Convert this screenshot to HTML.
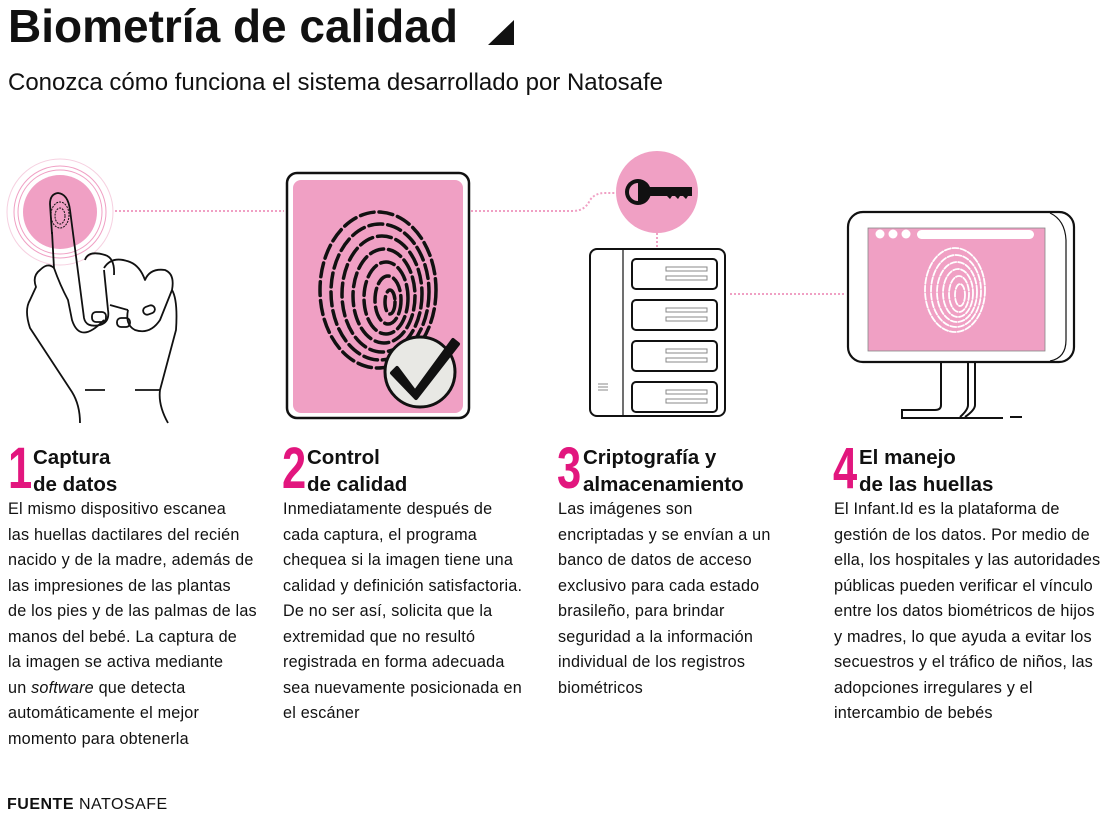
<!DOCTYPE html>
<html><head><meta charset="utf-8">
<style>
*{margin:0;padding:0;box-sizing:border-box}
body{width:1117px;height:817px;background:#fff;position:relative;overflow:hidden;font-family:"Liberation Sans",sans-serif;color:#111}
.t{position:absolute;white-space:nowrap}
h1{position:absolute;left:8px;top:-1px;font-size:46px;font-weight:bold;white-space:nowrap}
.sub{left:8px;top:69px;font-size:24px}
.num{position:absolute;top:440px;font-size:58px;font-weight:bold;color:#e2167e;transform:scaleX(0.75);transform-origin:left;line-height:1}
.hd{position:absolute;top:444px;font-size:20.5px;font-weight:bold;line-height:27px}
.bd{position:absolute;top:497px;font-size:16.2px;letter-spacing:0.2px;line-height:25.5px;width:290px;white-space:nowrap}
</style></head><body>
<h1>Biometría de calidad</h1>
<svg style="position:absolute;left:0;top:0" width="1117" height="817">
<polygon points="488,45 514,45 514,20" fill="#111"/>
<g stroke="#f0a0c4" stroke-width="2" stroke-dasharray="2,2" fill="none">
<line x1="115" y1="211" x2="284" y2="211"/>
<path d="M471 211 H573 Q585 211 590 200 Q595 193 605 193 H617"/>
<line x1="657" y1="233" x2="657" y2="248"/>
<line x1="730" y1="294" x2="846" y2="294"/>
</g>
<circle cx="60" cy="212" r="53" fill="none" stroke="#f6d0e0" stroke-width="1"/>
<circle cx="60" cy="212" r="46" fill="none" stroke="#f0a0c4" stroke-width="1"/>
<circle cx="60" cy="212" r="42" fill="none" stroke="#f0a0c4" stroke-width="1"/>
<circle cx="60" cy="212" r="37" fill="#f0a0c4"/>
<g fill="none" stroke="#111" stroke-width="1.8" stroke-linejoin="round">
<path d="M52 234 L50 204 Q50 194 58 193 Q68 194 70 210 L84 318 Q86 328 100 325 Q110 322 108 310 L104 270"/>
<path d="M85 260 Q88 250 105 255 Q115 258 114 275"/>
<path d="M104 268 Q112 255 130 262 Q140 266 145 280 Q150 268 165 270 Q175 274 172 290 L160 320 Q150 335 135 330 Q125 325 128 310"/>
<path d="M110 305 L128 310"/>
<path d="M52 232 L54 268 Q48 262 40 270 Q32 276 36 287 L30 300 Q24 310 30 328 L72 392 Q80 405 80 423"/>
<path d="M172 290 Q178 300 176 330 L160 390 Q158 405 168 423"/>
<path d="M54 268 Q60 285 68 300 L72 320 Q80 345 104 320"/>
<rect x="92" y="312" width="14" height="10" rx="4"/>
<rect x="117" y="318" width="13" height="9" rx="4"/>
<rect x="143" y="306" width="12" height="8" rx="4" transform="rotate(-20 149 310)"/>
<path d="M85 390 H105 M135 390 H160"/>
</g>
<ellipse cx="60" cy="215" rx="9" ry="13" fill="none" stroke="#111" stroke-width="1" stroke-dasharray="2,1"/>
<ellipse cx="60" cy="216" rx="5" ry="8" fill="none" stroke="#111" stroke-width="1" stroke-dasharray="2,1"/>
<rect x="287" y="173" width="182" height="245" rx="10" fill="#fff" stroke="#111" stroke-width="2.5"/>
<rect x="293" y="180" width="170" height="233" rx="8" fill="#f0a0c4"/>
<g fill="none" stroke="#111" stroke-width="3.5" stroke-linecap="round" stroke-dasharray="14,5">
<ellipse cx="378" cy="290" rx="58" ry="78"/>
<ellipse cx="380" cy="292" rx="49" ry="68"/>
<ellipse cx="382" cy="294" rx="40" ry="58"/>
<ellipse cx="384" cy="296" rx="31" ry="47"/>
<ellipse cx="386" cy="298" rx="22" ry="36"/>
<ellipse cx="388" cy="300" rx="13" ry="24"/>
<ellipse cx="390" cy="302" rx="5" ry="12"/>
</g>
<circle cx="420" cy="372" r="35" fill="#e8e8e4" stroke="#111" stroke-width="3"/>
<path d="M397 368 L415 392 L453 340 L458 344 L416 398 L392 373 Z" fill="#111" stroke="#111" stroke-width="4" stroke-linejoin="round"/>
<circle cx="657" cy="192" r="41" fill="#f0a0c4"/>
<circle cx="638" cy="192" r="13" fill="#111"/>
<path d="M638 183 A9 9 0 0 0 638 201 Z" fill="#f0a0c4"/>
<path d="M648 187 H692 V196 H688 L686 199 L683 196 H680 L678 199 L675 196 H672 L670 199 L667 196 H648 Z" fill="#111"/>
<rect x="590" y="249" width="135" height="167" rx="7" fill="#fff" stroke="#111" stroke-width="2"/>
<line x1="623" y1="250" x2="623" y2="415" stroke="#111" stroke-width="1.2"/>
<g fill="#fff" stroke="#111" stroke-width="2">
<rect x="632" y="259" width="85" height="30" rx="4"/>
<rect x="632" y="300" width="85" height="30" rx="4"/>
<rect x="632" y="341" width="85" height="30" rx="4"/>
<rect x="632" y="382" width="85" height="30" rx="4"/>
</g>
<g fill="none" stroke="#888" stroke-width="1">
<rect x="666" y="267" width="41" height="4"/><rect x="666" y="276" width="41" height="4"/>
<rect x="666" y="308" width="41" height="4"/><rect x="666" y="317" width="41" height="4"/>
<rect x="666" y="349" width="41" height="4"/><rect x="666" y="358" width="41" height="4"/>
<rect x="666" y="390" width="41" height="4"/><rect x="666" y="399" width="41" height="4"/>
<path d="M598 384 H608 M598 387 H608 M598 390 H608"/>
</g>
<path d="M941 360 V405 Q941 410 935 410 H902 V418 H1003" fill="#fff" stroke="#111" stroke-width="2"/>
<path d="M968 360 V405 Q968 410 960 417 M975 360 V405 Q975 410 965 417" fill="none" stroke="#111" stroke-width="2"/>
<line x1="1010" y1="417" x2="1022" y2="417" stroke="#111" stroke-width="2"/>
<rect x="848" y="212" width="226" height="150" rx="15" fill="#fff" stroke="#111" stroke-width="2.2"/>
<path d="M1050 213 Q1065 220 1066 240 V340 Q1066 358 1050 361" fill="none" stroke="#111" stroke-width="1.2"/>
<rect x="868" y="228" width="177" height="123" fill="#f0a0c4" stroke="#888" stroke-width="0.8"/>
<circle cx="880" cy="234" r="4.5" fill="#fff"/><circle cx="893" cy="234" r="4.5" fill="#fff"/><circle cx="906" cy="234" r="4.5" fill="#fff"/>
<rect x="917" y="230" width="117" height="9" rx="4.5" fill="#fff"/>
<g fill="none" stroke="#fff" stroke-width="1.8" stroke-linecap="round" stroke-dasharray="6,2">
<ellipse cx="955" cy="290" rx="30" ry="42"/>
<ellipse cx="956" cy="291" rx="25" ry="36"/>
<ellipse cx="957" cy="292" rx="20" ry="30"/>
<ellipse cx="958" cy="293" rx="15" ry="24"/>
<ellipse cx="959" cy="294" rx="10" ry="18"/>
<ellipse cx="960" cy="295" rx="5" ry="11"/>
</g>
</svg>
<div class="t sub">Conozca cómo funciona el sistema desarrollado por Natosafe</div>

<div class="num" style="left:8px">1</div>
<div class="hd" style="left:33px">Captura<br>de datos</div>
<div class="bd" style="left:8px">El mismo dispositivo escanea<br>las huellas dactilares del recién<br>nacido y de la madre, además de<br>las impresiones de las plantas<br>de los pies y de las palmas de las<br>manos del bebé. La captura de<br>la imagen se activa mediante<br>un <i>software</i> que detecta<br>automáticamente el mejor<br>momento para obtenerla</div>

<div class="num" style="left:282px">2</div>
<div class="hd" style="left:307px">Control<br>de calidad</div>
<div class="bd" style="left:283px">Inmediatamente después de<br>cada captura, el programa<br>chequea si la imagen tiene una<br>calidad y definición satisfactoria.<br>De no ser así, solicita que la<br>extremidad que no resultó<br>registrada en forma adecuada<br>sea nuevamente posicionada en<br>el escáner</div>

<div class="num" style="left:557px">3</div>
<div class="hd" style="left:583px">Criptografía y<br>almacenamiento</div>
<div class="bd" style="left:558px">Las imágenes son<br>encriptadas y se envían a un<br>banco de datos de acceso<br>exclusivo para cada estado<br>brasileño, para brindar<br>seguridad a la información<br>individual de los registros<br>biométricos</div>

<div class="num" style="left:833px">4</div>
<div class="hd" style="left:859px">El manejo<br>de las huellas</div>
<div class="bd" style="left:834px;font-size:16.3px;letter-spacing:0.15px">El Infant.Id es la plataforma de<br>gestión de los datos. Por medio de<br>ella, los hospitales y las autoridades<br>públicas pueden verificar el vínculo<br>entre los datos biométricos de hijos<br>y madres, lo que ayuda a evitar los<br>secuestros y el tráfico de niños, las<br>adopciones irregulares y el<br>intercambio de bebés</div>

<div class="t" style="left:7px;top:796px;font-size:16px;letter-spacing:0.5px"><b>FUENTE</b> NATOSAFE</div>
</body></html>
